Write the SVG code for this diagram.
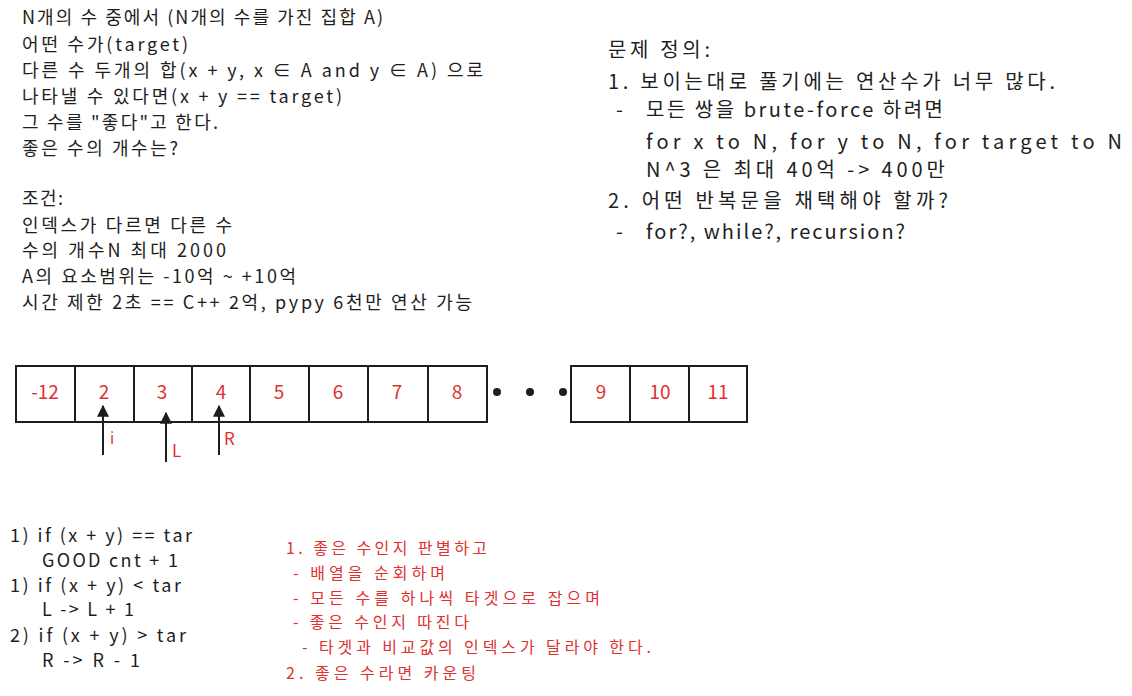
<svg xmlns="http://www.w3.org/2000/svg" width="1132" height="696" viewBox="0 0 1132 696">
<style>
.t{font-family:"Noto Sans CJK KR","Noto Sans",sans-serif;fill:#1e1e1e}
.a{font-size:18px}
.b{font-size:20px}
.r{font-family:"Noto Sans CJK KR","Noto Sans",sans-serif;fill:#e03131;font-size:16px}
.n{font-family:"Noto Sans CJK KR","Noto Sans",sans-serif;fill:#e03131;font-size:19px;text-anchor:middle}
.box{fill:none;stroke:#1e1e1e;stroke-width:2}
.arr{stroke:#1e1e1e;stroke-width:2;fill:none}
</style>
<defs>
<marker id="ah" viewBox="0 0 10 10" refX="9" refY="5" markerWidth="6" markerHeight="6" orient="auto" markerUnits="strokeWidth">
<path d="M0,0 L10,5 L0,10 z" fill="#1e1e1e"/>
</marker>
</defs>
<g id="problem" class="t a">
<text x="22" y="24" textLength="361">N개의 수 중에서 (N개의 수를 가진 집합 A)</text>
<text x="22" y="51" textLength="166">어떤 수가(target)</text>
<text x="22" y="77" textLength="461">다른 수 두개의 합(x + y, x ∈ A and y ∈ A) 으로</text>
<text x="22" y="103" textLength="320">나타낼 수 있다면(x + y == target)</text>
<text x="22" y="129" textLength="196">그 수를 "좋다"고 한다.</text>
<text x="22" y="155" textLength="156">좋은 수의 개수는?</text>
<text x="22" y="205" textLength="41">조건:</text>
<text x="22" y="232" textLength="210">인덱스가 다르면 다른 수</text>
<text x="22" y="257" textLength="204">수의 개수N 최대 2000</text>
<text x="22" y="283" textLength="274">A의 요소범위는 -10억 ~ +10억</text>
<text x="22" y="309" textLength="450">시간 제한 2초 == C++ 2억, pypy 6천만 연산 가능</text>
</g>
<g id="definition" class="t b">
<text x="608" y="57" textLength="102">문제 정의:</text>
<text x="608" y="89" textLength="447">1. 보이는대로 풀기에는 연산수가 너무 많다.</text>
<text x="616" y="117">-</text>
<text x="646" y="117" textLength="297">모든 쌍을 brute-force 하려면</text>
<text x="646" y="149" textLength="476">for x to N,  for y to N,  for target to N</text>
<text x="646" y="177" textLength="299">N^3 은 최대 40억 -&gt; 400만</text>
<text x="608" y="208" textLength="340">2. 어떤 반복문을 채택해야 할까?</text>
<text x="616" y="239">-</text>
<text x="646" y="239" textLength="259">for?, while?, recursion?</text>
</g>
<g id="array">
<rect class="box" x="16" y="366" width="59" height="56"/>
<rect class="box" x="75" y="366" width="59" height="56"/>
<rect class="box" x="134" y="366" width="58" height="56"/>
<rect class="box" x="192" y="366" width="58" height="56"/>
<rect class="box" x="250" y="366" width="59" height="56"/>
<rect class="box" x="309" y="366" width="59" height="56"/>
<rect class="box" x="368" y="366" width="60" height="56"/>
<rect class="box" x="428" y="366" width="59" height="56"/>
<rect class="box" x="571" y="366" width="59" height="56"/>
<rect class="box" x="630" y="366" width="59" height="56"/>
<rect class="box" x="689" y="366" width="58" height="56"/>
<text class="n" x="45" y="399">-12</text>
<text class="n" x="104" y="399">2</text>
<text class="n" x="162" y="399">3</text>
<text class="n" x="221" y="399">4</text>
<text class="n" x="279" y="399">5</text>
<text class="n" x="338" y="399">6</text>
<text class="n" x="397" y="399">7</text>
<text class="n" x="457" y="399">8</text>
<text class="n" x="601" y="399">9</text>
<text class="n" x="660" y="399">10</text>
<text class="n" x="718" y="399">11</text>
<circle cx="497" cy="392" r="4" fill="#1e1e1e"/>
<circle cx="530" cy="392" r="4" fill="#1e1e1e"/>
<circle cx="563" cy="392" r="4" fill="#1e1e1e"/>
</g>
<g id="connectors">
<line class="arr" x1="103" y1="455" x2="103" y2="406" marker-end="url(#ah)"/>
<line class="arr" x1="166" y1="462" x2="166" y2="413" marker-end="url(#ah)"/>
<line class="arr" x1="219" y1="455" x2="219" y2="406" marker-end="url(#ah)"/>
</g>
<g id="pointer-labels">
<text class="r" x="110" y="444" style="font-size:15px">i</text>
<text class="r" x="172" y="457" style="font-size:17px">L</text>
<text class="r" x="224" y="445" style="font-size:17px">R</text>
</g>
<g id="conditions" class="t a">
<text x="10" y="542" textLength="182">1) if (x + y) == tar</text>
<text x="42" y="567" textLength="136">GOOD cnt + 1</text>
<text x="10" y="592" textLength="171">1) if (x + y) &lt; tar</text>
<text x="42" y="616" textLength="92">L -&gt; L + 1</text>
<text x="10" y="642" textLength="176">2) if (x + y) &gt; tar</text>
<text x="42" y="667" textLength="98">R -&gt; R - 1</text>
</g>
<g id="approach" class="r">
<text x="286" y="554" textLength="201">1. 좋은 수인지 판별하고</text>
<text x="293" y="579" textLength="152">- 배열을 순회하며</text>
<text x="293" y="604" textLength="307">- 모든 수를 하나씩 타겟으로 잡으며</text>
<text x="293" y="628" textLength="176">- 좋은 수인지 따진다</text>
<text x="302" y="653" textLength="349">- 타겟과 비교값의 인덱스가 달라야 한다.</text>
<text x="286" y="679" textLength="190">2. 좋은 수라면 카운팅</text>
</g>
</svg>
